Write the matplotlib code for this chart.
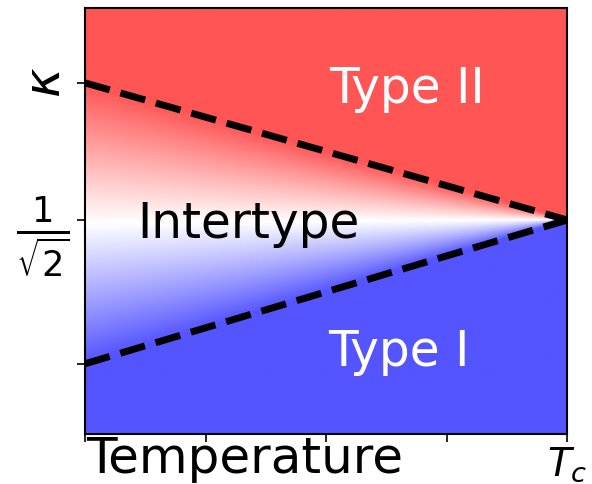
import numpy as np
import matplotlib
matplotlib.use("Agg")
import matplotlib.pyplot as plt
from matplotlib.colors import LinearSegmentedColormap
from matplotlib.transforms import ScaledTranslation

# boundary lines: kappa at T=0 and at T=Tc
t_ends = [0.0, 1.0]
upper_kappa = [1.0, 1 / np.sqrt(2)]
lower_kappa = [0.4, 1 / np.sqrt(2)]

xtick_pos = [0, 0.25, 0.5, 0.75, 1.0]
xtick_labels = ["", "", "", "", r"$T_c$"]
x_name = "Temperature"
ytick_pos = [0.4, 1 / np.sqrt(2), 1.0]
ytick_labels = ["", r"$\frac{1}{\sqrt{2}}$", r"$\kappa$"]

region_labels = ["Type II", "Intertype", "Type I"]
region_pos = [(0.667, 0.957), (0.338, 0.669), (0.651, 0.395)]
region_colors = ["white", "black", "white"]

ylo, yhi = 0.25, 1.16

cmap = LinearSegmentedColormap.from_list("tw", ["#5555ff", "white", "#ff5555"])

fig = plt.figure(figsize=(5.92, 4.84), dpi=100)
ax = fig.add_axes([0.1436, 0.1033, 0.8144, 0.8802])

# colour field: saturated outside the lines, fading to white at 1/sqrt(2)
xg = np.linspace(0, 1, 600)
yg = np.linspace(ylo, yhi, 600)
X, Y = np.meshgrid(xg, yg)
up = np.interp(X, t_ends, upper_kappa)
lo = np.interp(X, t_ends, lower_kappa)
mid = (up + lo) / 2
half = np.maximum((up - lo) / 2, 1e-4)
Z = np.clip((Y - mid) / half, -1, 1)
ax.imshow(Z, extent=[0, 1, ylo, yhi], origin="lower", cmap=cmap,
          vmin=-1, vmax=1, aspect="auto", interpolation="bilinear")

ax.plot(t_ends, upper_kappa, "k--", lw=5)
ax.plot(t_ends, lower_kappa, "k--", lw=5)

for lab, (px, py), c in zip(region_labels, region_pos, region_colors):
    ax.text(px, py, lab, color=c, fontsize=35, ha="center", va="baseline")

ax.set_xlim(0, 1)
ax.set_ylim(ylo, yhi)
ax.set_xticks(xtick_pos)
ax.set_xticklabels(xtick_labels, fontsize=28)
ax.annotate(x_name, xy=(0, 0), xycoords="axes fraction", xytext=(1, -0.5),
            textcoords="offset points", ha="left", va="top", fontsize=36)
ax.set_yticks(ytick_pos)
ax.set_yticklabels(ytick_labels, fontsize=36)
yl = ax.get_yticklabels()
yl[2].set_rotation(90)
yl[2].set_verticalalignment("center")
yl[2].set_transform(yl[2].get_transform() + ScaledTranslation(-0.15, 0, fig.dpi_scale_trans))
ax.tick_params(length=6, width=1.2, pad=2)
ax.tick_params(axis="y", pad=5)
for s in ax.spines.values():
    s.set_linewidth(1.5)

fig.savefig("out.png", dpi=100)
